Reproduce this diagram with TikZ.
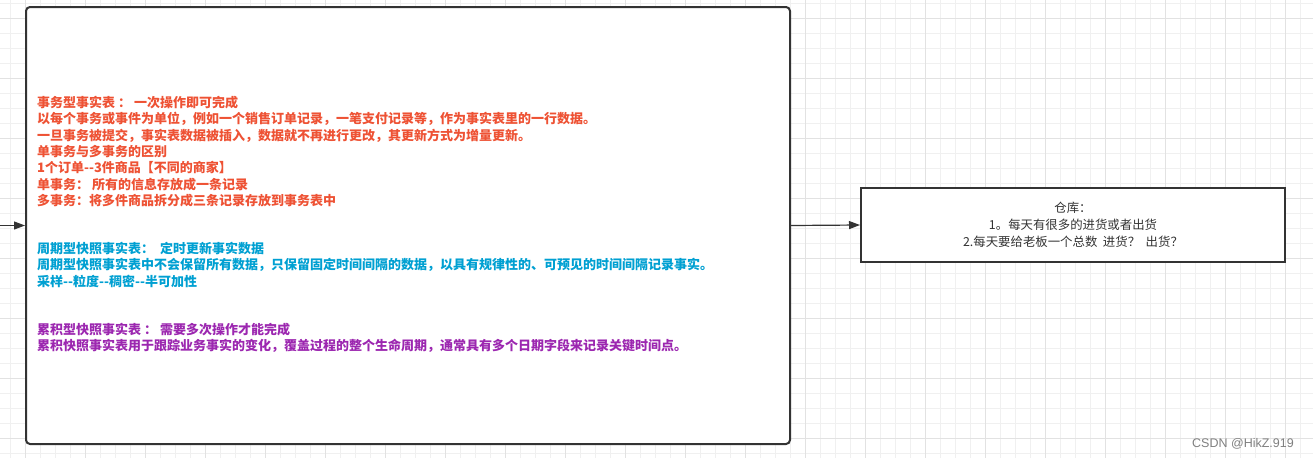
\documentclass[tikz,border=0pt]{standalone}
\usepackage{fontspec}
\setmainfont{Noto Sans CJK SC}
\newfontfamily\wmfont{Liberation Sans}
\usetikzlibrary{arrows.meta}

\definecolor{boxline}{RGB}{51,51,51}
\definecolor{txtred}{RGB}{238,82,52}
\definecolor{txtblue}{RGB}{0,160,210}
\definecolor{txtpurple}{RGB}{156,39,176}
\definecolor{gridminor}{RGB}{240,240,240}
\definecolor{gridmajor}{RGB}{226,226,226}

\tikzset{
  flowbox/.style={draw=boxline, line width=2pt, fill=white, inner sep=0pt},
  flowarrow/.style={draw=boxline, line width=1.2pt, -{Triangle[length=11pt,width=8pt]}},
  notetext/.style={anchor=north west, align=left, inner sep=0pt, font=\bfseries\fontsize{13}{16.3}\selectfont}
}

\begin{document}
\begin{tikzpicture}[x=1pt, y=-1pt]
            \useasboundingbox (0,0) rectangle (1313,458);
            \fill[white] (0,0) rectangle (1313,458);

            % Background grid
            \foreach \gx in {10,25,...,1310} \draw[gridminor, line width=0.8pt] (\gx,0) -- (\gx,458);
            \foreach \gy in {3,18,...,458} \draw[gridminor, line width=0.8pt] (0,\gy) -- (1313,\gy);
            \foreach \gx in {25,85,...,1310} \draw[gridmajor, line width=0.8pt] (\gx,0) -- (\gx,458);
            \foreach \gy in {18,78,...,458} \draw[gridmajor, line width=0.8pt] (0,\gy) -- (1313,\gy);

            % Boxes
            \node[flowbox, rounded corners=4pt, minimum width=764pt, minimum height=437pt] (facttypes) at (408,225.5) {};
            \node[flowbox, minimum width=424pt, minimum height=74pt, font=\fontsize{12.4}{17}\selectfont, align=center, text=boxline] (warehouse) at (1073,225) {仓库：\\1。每天有很多的进货或者出货\\2.每天要给老板一个总数 \ 进货？ \ 出货？};

            % Texts in the big box
            \node[notetext, text=txtred] (txtrans) at (37,96) {事务型事实表 ： 一次操作即可完成\\以每个事务或事件为单位，例如一个销售订单记录，一笔支付记录等，作为事实表里的一行数据。\\一旦事务被提交，事实表数据被插入，数据就不再进行更改，其更新方式为增量更新。\\单事务与多事务的区别\\1个订单-{}-3件商品【不同的商家】\\单事务： 所有的信息存放成一条记录\\多事务：将多件商品拆分成三条记录存放到事务表中};
            \node[notetext, text=txtblue] (txperiod) at (37,242) {周期型快照事实表： \ 定时更新事实数据\\周期型快照事实表中不会保留所有数据，只保留固定时间间隔的数据，以具有规律性的、可预见的时间间隔记录事实。\\采样-{}-粒度-{}-稠密-{}-半可加性};
            \node[notetext, text=txtpurple] (txaccum) at (37,323) {累积型快照事实表 ： 需要多次操作才能完成\\累积快照事实表用于跟踪业务事实的变化，覆盖过程的整个生命周期，通常具有多个日期字段来记录关键时间点。};

            % Arrows
            \coordinate (leftend) at (0,225.5);
            \draw[flowarrow] (leftend) -- (facttypes.west);
            \draw[flowarrow] (facttypes.east) -- (warehouse.west);

            % Watermark
            \node[anchor=base west, inner sep=0pt, text=gray, font=\wmfont\fontsize{12.5}{14}\selectfont] (mark) at (1192,447) {CSDN @HikZ.919};
\end{tikzpicture}
\end{document}
